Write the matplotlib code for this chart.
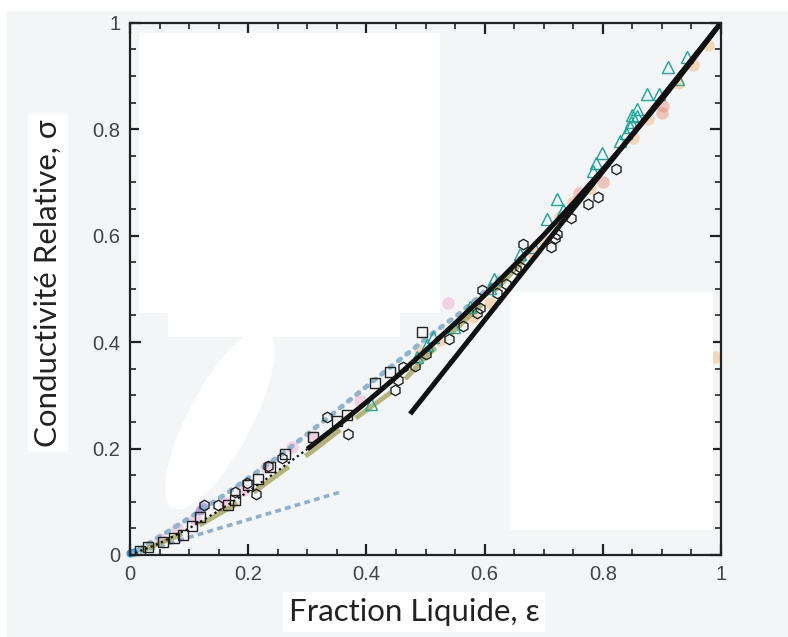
import matplotlib.pyplot as plt
from matplotlib.patches import Rectangle, Ellipse
from matplotlib.ticker import MultipleLocator

# model curve
eps_curve = [0.0, 0.05, 0.10, 0.15, 0.20, 0.25, 0.30, 0.35, 0.40, 0.45, 0.50,
             0.55, 0.60, 0.65, 0.70, 0.75, 0.80, 0.85, 0.90, 0.95, 1.0]
sigma_curve = [0.0, 0.022, 0.050, 0.083, 0.119, 0.158, 0.199, 0.242, 0.287, 0.334, 0.384,
               0.435, 0.488, 0.544, 0.601, 0.661, 0.724, 0.789, 0.856, 0.927, 1.0]

# straight high-fraction line
eps_lin = [0.474, 1.0]
sigma_lin = [0.265, 1.0]

# Lemlich limit (lower dotted blue)
eps_lem = [0.0, 0.355]
sigma_lem = [0.0, 0.118]

# upper dotted blue curve
eps_blue = [0.0, 0.08, 0.164, 0.259, 0.344, 0.435, 0.513, 0.558, 0.60, 0.63]
sigma_blue = [0.0, 0.055, 0.116, 0.191, 0.266, 0.348, 0.417, 0.454, 0.495, 0.525]

# olive dashed curve
eps_olive = [0.02, 0.10, 0.191, 0.265, 0.305, 0.355, 0.389, 0.452, 0.50, 0.53, 0.60, 0.68]
sigma_olive = [0.008, 0.045, 0.103, 0.163, 0.192, 0.235, 0.263, 0.314, 0.372, 0.402, 0.476, 0.570]

# open circles
eps_circ = [0.822, 0.792, 0.775, 0.746, 0.722, 0.719, 0.712, 0.665, 0.653, 0.660, 0.636,
            0.621, 0.596, 0.592, 0.587, 0.563, 0.540, 0.501, 0.482, 0.462, 0.453, 0.448,
            0.369, 0.333, 0.257, 0.234, 0.213, 0.198, 0.178, 0.149, 0.125]
sigma_circ = [0.725, 0.672, 0.659, 0.633, 0.603, 0.595, 0.578, 0.584, 0.537, 0.541, 0.509,
              0.492, 0.498, 0.464, 0.454, 0.430, 0.406, 0.377, 0.355, 0.353, 0.329, 0.310,
              0.227, 0.259, 0.182, 0.167, 0.115, 0.135, 0.118, 0.094, 0.094]

# open squares
eps_sq = [0.494, 0.440, 0.415, 0.367, 0.350, 0.310, 0.262, 0.237, 0.217, 0.200, 0.178,
          0.166, 0.118, 0.105, 0.090, 0.074, 0.056, 0.030, 0.017]
sigma_sq = [0.419, 0.344, 0.323, 0.263, 0.252, 0.222, 0.190, 0.165, 0.143, 0.131, 0.103,
            0.094, 0.071, 0.054, 0.038, 0.032, 0.024, 0.015, 0.008]

# open teal triangles
eps_tri = [0.942, 0.910, 0.927, 0.875, 0.895, 0.858, 0.849, 0.858, 0.848, 0.846, 0.839,
           0.829, 0.799, 0.788, 0.783, 0.722, 0.733, 0.706, 0.684, 0.660, 0.616, 0.609,
           0.575, 0.548, 0.513, 0.503, 0.486, 0.408]
sigma_tri = [0.935, 0.916, 0.894, 0.866, 0.866, 0.838, 0.826, 0.824, 0.813, 0.804, 0.792,
             0.777, 0.755, 0.736, 0.721, 0.669, 0.648, 0.631, 0.578, 0.565, 0.518, 0.501,
             0.466, 0.428, 0.409, 0.394, 0.372, 0.284]

# faded peach blobs
eps_peach = [0.978, 0.953, 0.927, 0.876, 0.851, 0.778, 0.750, 0.728, 0.699, 0.682,
             0.609, 0.580, 0.525, 0.490, 0.99]
sigma_peach = [0.958, 0.920, 0.887, 0.819, 0.783, 0.689, 0.663, 0.635, 0.592, 0.567,
               0.473, 0.447, 0.404, 0.385, 0.372]

# faded salmon blobs
eps_salmon = [0.902, 0.900, 0.800, 0.760]
sigma_salmon = [0.843, 0.830, 0.700, 0.680]

# faded pink blobs
eps_pink = [0.538, 0.389, 0.310, 0.274, 0.230, 0.192, 0.160, 0.110, 0.080, 0.050]
sigma_pink = [0.473, 0.291, 0.222, 0.203, 0.165, 0.123, 0.098, 0.068, 0.050, 0.030]

eps_purple = [0.124, 0.118]
sigma_purple = [0.090, 0.084]

eps_cyan = [0.0, 0.006]
sigma_cyan = [0.003, 0.005]

ticks = [0, 0.2, 0.4, 0.6, 0.8, 1.0]
tick_labels = ["0", "0.2", "0.4", "0.6", "0.8", "1"]

bg = "#f3f5f6"
fig = plt.figure(figsize=(7.88, 6.37), dpi=100, facecolor=bg)
ax = fig.add_axes([130 / 788, 82 / 637, 591 / 788, 532.3 / 637])
ax.set_facecolor(bg)

ax.plot(eps_peach, sigma_peach, "o", color="#f6b270", alpha=0.45, ms=9, mec="none", zorder=2)
ax.plot(eps_salmon, sigma_salmon, "o", color="#e88a78", alpha=0.45, ms=9, mec="none", zorder=2)
ax.plot(eps_pink, sigma_pink, "o", color="#ef8fc0", alpha=0.35, ms=9, mec="none", zorder=2)
ax.plot(eps_purple, sigma_purple, "o", color="#8a6fc8", alpha=0.6, ms=7, mec="none", zorder=2)
ax.plot(eps_cyan, sigma_cyan, "o", color="#3a9fe0", ms=6, mec="none", zorder=2, clip_on=False)

ax.plot(eps_blue, sigma_blue, color="#8fb4cf", lw=3.5, ls=(0, (0.6, 1.6)),
        dash_capstyle="round", zorder=2)
ax.plot(eps_lem, sigma_lem, color="#8fb0cc", lw=2.6, ls=(0, (1.6, 1.2)), zorder=2)
ax.plot(eps_olive, sigma_olive, color="#a9a864", lw=3.5, ls=(0, (9, 4)), alpha=0.85, zorder=2)

ax.plot(eps_circ, sigma_circ, "h", mfc="none", mec="#222222", mew=1.0, ms=7.5, zorder=3)
ax.plot(eps_sq, sigma_sq, "s", mfc="none", mec="#222222", mew=1.0, ms=7.5, zorder=3)
ax.plot(eps_tri, sigma_tri, "^", mfc="none", mec="#1aa596", mew=1.0, ms=8, zorder=3)

ax.plot(eps_curve[:7], sigma_curve[:7], color="#111111", lw=1.6, ls=(0, (1, 1.5)), zorder=4)
ax.plot(eps_curve[6:], sigma_curve[6:], color="#111111", lw=3.6, zorder=4,
        solid_capstyle="butt")
ax.plot(eps_lin, sigma_lin, color="#111111", lw=3.6, zorder=4, solid_capstyle="butt")

# erased (white) patches of the original figure
for x0, y0, w, h in [(0.015, 0.454, 0.510, 0.526), (0.064, 0.409, 0.393, 0.046),
                     (0.643, 0.047, 0.343, 0.447)]:
    ax.add_patch(Rectangle((x0, y0), w, h, fc="white", ec="none", zorder=4.5))
ax.add_patch(Ellipse((0.152, 0.255), 0.11, 0.37, angle=-25, fc="white", ec="none",
                     zorder=4.5))

ax.set_xlim(0, 1)
ax.set_ylim(0, 1)
ax.set_xticks(ticks, tick_labels)
ax.set_yticks(ticks, tick_labels)
ax.xaxis.set_minor_locator(MultipleLocator(0.05))
ax.yaxis.set_minor_locator(MultipleLocator(0.05))
ax.tick_params(which="both", direction="in", top=True, right=True, color="#222222",
               labelcolor="#444444", zorder=6)
ax.tick_params(which="major", length=8, width=1.6, labelsize=14.5, pad=7)
ax.tick_params(which="minor", length=4.5, width=1.2)
for lab in ax.get_xticklabels() + ax.get_yticklabels():
    lab.set_family(["Liberation Sans Narrow", "Liberation Sans"])
for sp in ax.spines.values():
    sp.set_linewidth(1.6)
    sp.set_color("#222222")
    sp.set_zorder(6)
ax.set_axisbelow(False)

# white strips in figure space
fig.patches.append(Rectangle((0, 1 - 11 / 637), 1, 11 / 637, transform=fig.transFigure,
                             fc="white", ec="none", zorder=0))
fig.patches.append(Rectangle((0, 0), 7 / 788, 1, transform=fig.transFigure,
                             fc="white", ec="none", zorder=0))

fig.text(48 / 788, 1 - 283 / 637, "Conductivité Relative, σ", rotation=90,
         ha="center", va="center", fontsize=22.5, color="#222222",
         family=["Lato", "DejaVu Sans"],
         bbox=dict(fc="white", ec="none", pad=4))
fig.text(414 / 788, 1 - 612 / 637, "Fraction Liquide, ε", ha="center", va="center",
         fontsize=22.5, color="#222222", family=["Lato", "DejaVu Sans"],
         bbox=dict(fc="white", ec="none", pad=4))

plt.savefig("out.png", dpi=100, facecolor=bg)
plt.close()
